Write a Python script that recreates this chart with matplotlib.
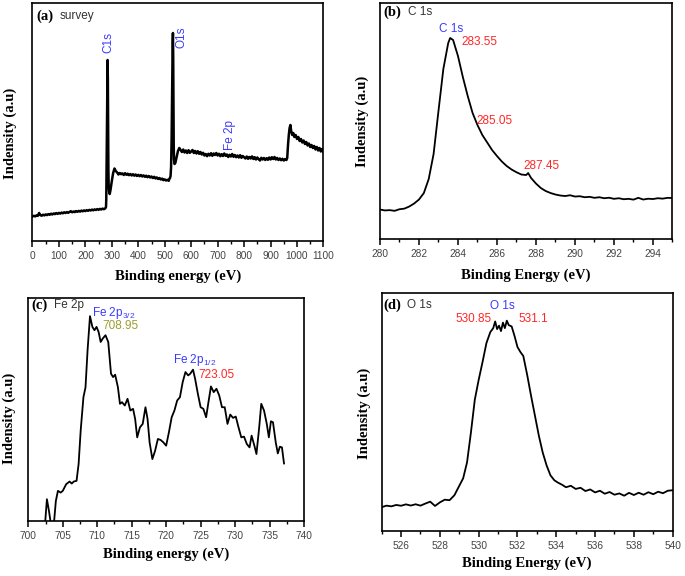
import matplotlib
matplotlib.use("Agg")
import matplotlib.pyplot as plt
from matplotlib.ticker import MultipleLocator, NullLocator

# ---- data (intensity in arbitrary units) ----
survey_ev = [
    0, 5, 10, 15, 20, 25, 30, 35, 40, 45, 50, 55, 60, 65, 70, 75, 80, 85, 90, 95,
    100, 105, 110, 115, 120, 125, 130, 135, 140, 145, 150, 155, 160, 165, 170, 175, 180, 185, 190, 195,
    200, 205, 210, 215, 220, 225, 230, 235, 240, 245, 250, 255, 260, 265, 270, 275, 278,
    279, 281, 283, 284, 285, 286, 287, 288, 290, 292, 295, 300, 305, 310, 315,
    320, 325, 330, 335, 340, 345, 350, 355, 360, 365, 370, 375, 380, 385, 390, 395,
    400, 405, 410, 415, 420, 425, 430, 435, 440, 445, 450, 455, 460, 465, 470, 475,
    480, 485, 490, 495, 500, 505, 510, 515, 518,
    520, 522, 524, 526, 528, 530, 531, 532, 533, 534, 535, 537, 540, 545, 550, 555,
    560, 565, 570, 575, 580, 585, 590, 595, 600, 605, 610, 615, 620, 625, 630, 635,
    640, 645, 650, 655, 660, 665, 670, 675, 680, 685, 690, 695, 700, 705, 710, 715,
    720, 725, 730, 735, 740, 745, 750, 755, 760, 765, 770, 775, 780, 785, 790, 795,
    800, 805, 810, 815, 820, 825, 830, 835, 840, 845, 850, 855, 860, 865, 870, 875,
    880, 885, 890, 895, 900, 905, 910, 915, 920, 925, 930, 935, 940, 945, 950, 955,
    960, 963, 966, 969, 972, 975, 978, 982, 986, 990, 995,
    1000, 1005, 1010, 1015, 1020, 1025, 1030, 1035, 1040, 1045, 1050, 1055, 1060,
    1065, 1070, 1075, 1080, 1085, 1090, 1095, 1100,
]
survey_int = [
    24.5, 25.2, 24.6, 25.6, 25.1, 28.0, 25.8, 25.3, 26.3, 25.6, 26.6, 25.9, 26.9, 26.2, 27.3, 26.5, 27.5, 26.9, 27.9, 27.1,
    28.1, 27.4, 28.4, 27.7, 28.7, 28.0, 28.9, 28.2, 29.1, 29.8, 28.7, 29.5, 28.9, 29.9, 29.2, 30.1, 29.4, 30.4, 29.7, 30.6,
    29.9, 30.9, 30.2, 31.1, 30.5, 31.4, 30.7, 31.6, 31.0, 31.9, 31.2, 32.1, 31.5, 32.4, 31.8, 32.6, 34.0,
    42, 100, 168, 181, 162, 112, 72, 56, 49, 47, 51, 60, 68, 72.5, 70,
    68.5, 66.5, 68.0, 66.8, 67.6, 66.0, 67.8, 66.2, 67.3, 65.8, 67.0, 65.5, 66.8, 65.3, 66.5, 65.0,
    66.2, 64.8, 66.0, 64.5, 65.6, 64.2, 65.3, 63.8, 65.0, 63.5, 64.5, 63.0, 64.2, 62.5, 63.6, 62.0,
    63.0, 61.5, 62.4, 60.8, 61.6, 60.5, 61.2, 60.2, 62.5,
    63, 65, 74, 102, 150, 198, 208, 185, 130, 95, 82, 77, 78, 84, 90, 93,
    91.0, 89.0, 91.5, 88.5, 90.5, 88.0, 90.8, 88.2, 89.5, 91.0, 88.0, 90.0, 87.5, 89.8, 87.2, 89.0,
    86.5, 88.2, 85.5, 87.0, 84.8, 87.2, 85.5, 87.8, 85.2, 87.5, 86.0, 88.0, 85.5, 87.2, 84.8, 86.8,
    85.0, 87.5, 85.2, 86.5, 84.0, 86.2, 84.5, 87.0, 84.2, 86.0, 83.8, 85.5, 83.5, 85.8, 83.2, 85.0,
    83.8, 82.5, 84.5, 82.2, 84.0, 82.5, 84.6, 82.0, 83.8, 81.5, 83.5, 81.8, 80.5, 83.2, 81.5, 83.0,
    81.0, 82.8, 81.2, 83.5, 81.5, 83.8, 82.0, 84.0, 81.5, 83.0, 81.0, 82.5, 80.8, 82.2, 80.5, 82.0,
    81.0, 83.0, 96, 106, 113, 116, 110, 106, 108, 104, 106,
    102, 104, 100, 102, 98.5, 100.5, 97, 99, 95.5, 97.5, 94, 96, 93,
    95, 91.5, 94, 90.5, 93, 89.5, 92, 89,
]

c1s_ev = [
    280.0, 280.25, 280.5, 280.75, 281.0, 281.25, 281.5, 281.75, 282.0, 282.25, 282.5, 282.75,
    283.0, 283.25, 283.5, 283.6, 283.75, 284.0, 284.25, 284.5, 284.75, 285.0, 285.25, 285.5,
    285.75, 286.0, 286.25, 286.5, 286.75, 287.0, 287.25, 287.5, 287.6, 287.75, 288.0, 288.25,
    288.5, 288.75, 289.0, 289.25, 289.5, 289.75, 290.0, 290.25, 290.5, 290.75, 291.0, 291.25,
    291.5, 291.75, 292.0, 292.25, 292.5, 292.75, 293.0, 293.25, 293.5, 293.75, 294.0, 294.25,
    294.5, 294.75, 295.0,
]
c1s_int = [
    29.5, 28.6, 28.9, 28.2, 29.8, 30.4, 32.5, 35.5, 39.5, 46, 60, 85,
    128, 170, 196, 201, 199, 183, 162, 143, 126, 114, 104, 96.5,
    89, 83, 77.5, 73, 69.5, 66.8, 64.5, 64, 66, 61, 55.5, 51,
    48, 46, 44.5, 43.5, 43, 43.8, 42.5, 42.8, 41.8, 42.2, 41.2, 41.8,
    40.8, 41.3, 40.2, 40.8, 39.8, 40.2, 39.4, 41.2, 39.5, 40.3, 40, 40.8,
    40.4, 41.2, 41,
]

fe2p_ev = [
    702.4, 702.7, 703.0, 703.3, 703.7, 704.0, 704.3, 704.7, 705.0, 705.5, 706.0, 706.3, 706.6,
    707.0, 707.3, 707.6, 708.0, 708.3, 708.6, 708.95, 709.3, 709.6, 709.9, 710.2, 710.5, 710.8,
    711.2, 711.6, 712.0, 712.3, 712.6, 713.0, 713.3, 713.6, 714.0, 714.4, 714.8, 715.2, 715.5,
    715.8, 716.2, 716.6, 717.0, 717.3, 717.6, 718.0, 718.4, 718.8, 719.2, 719.6, 720.0, 720.4,
    720.8, 721.2, 721.6, 722.0, 722.4, 722.8, 723.2, 723.5, 723.9, 724.2, 724.6, 725.0, 725.4,
    725.8, 726.1, 726.5, 726.9, 727.3, 727.7, 728.1, 728.5, 728.9, 729.3, 729.7, 730.1, 730.5,
    730.9, 731.3, 731.7, 732.1, 732.4, 732.8, 733.1, 733.5, 733.8, 734.2, 734.6, 734.9, 735.2,
    735.5, 735.9, 736.2, 736.5, 736.8, 737.1,
]
fe2p_int = [
    -6, 21.7, 10, -4, -4, 20, 30, 28.3, 30, 36.7, 39.3, 37.3, 39.3,
    40, 56.7, 90, 123.3, 133, 170, 204, 193.3, 190, 193.3, 188.3, 178.3, 181.7,
    185, 178.3, 146.7, 143.3, 145.7, 133.3, 116.7, 118.3, 115, 121.7, 110, 111.7, 101.7,
    83.3, 93.3, 96.7, 113.3, 101.7, 78.3, 61.7, 70, 81.7, 80.7, 78.3, 75, 88.3,
    103.3, 110, 120, 123.3, 138.3, 148.3, 145, 146.7, 150.7, 141.7, 126.7, 113.3, 111.7,
    103.3, 116.7, 134, 128.3, 131.7, 125, 113.3, 113.3, 96.7, 106, 102.7, 104, 93.3,
    83.3, 84, 76.7, 73.3, 85, 75, 66.7, 93.3, 116.7, 110, 96.7, 83.3, 99.3,
    98.3, 78.3, 67.3, 74, 73.3, 57.3,
]

o1s_ev = [
    525.0, 525.25, 525.5, 525.75, 526.0, 526.25, 526.5, 526.75, 527.0, 527.25, 527.5, 527.75,
    528.0, 528.25, 528.5, 528.75, 529.0, 529.2, 529.4, 529.6, 529.8, 530.0, 530.2, 530.4,
    530.6, 530.75, 530.85, 530.95, 531.05, 531.15, 531.25, 531.35, 531.45, 531.55, 531.7, 531.85,
    532.0, 532.15, 532.3, 532.5, 532.7, 532.9, 533.1, 533.3, 533.5, 533.7, 533.9, 534.1,
    534.3, 534.5, 534.75, 535.0, 535.25, 535.5, 535.75, 536.0, 536.25, 536.5, 536.75, 537.0,
    537.25, 537.5, 537.75, 538.0, 538.25, 538.5, 538.75, 539.0, 539.25, 539.5, 539.75, 540.0,
]
o1s_int = [
    24, 25.5, 24.8, 26.2, 25.4, 26.8, 25.6, 26.9, 25.5, 27.6, 29.5, 25.2,
    28.8, 31.5, 31, 36, 45.5, 53, 69, 99, 132, 152, 170, 189,
    200, 204, 210.7, 203, 206.5, 201, 209.5, 204, 211.5, 207, 205.7, 196,
    185, 180, 176, 157, 136, 116, 96, 79, 66, 56, 51, 48.5,
    46.5, 44, 45.5, 42.3, 43.5, 40.2, 41.8, 38.8, 40.5, 37.5, 39.2, 36.5,
    37.8, 35.5, 38.4, 36.2, 38.5, 36.5, 39.0, 37.0, 39.5, 38.0, 40.5, 41.0,
]

BLUE = "#3a3aff"
RED = "#ff2626"
OLIVE = "#9c9c30"
TICKGREY = "#444444"
SANS = "Liberation Sans"
SERIF = "Liberation Serif"

plt.rcParams["font.family"] = SANS
plt.rcParams["mathtext.fontset"] = "custom"
plt.rcParams["mathtext.rm"] = SANS


def style_axes(ax, xlim, ylim, major, minor, xlabel, xlab_y, ylab_x, ylab_y):
    ax.set_xlim(*xlim)
    ax.set_ylim(*ylim)
    ax.xaxis.set_major_locator(MultipleLocator(major))
    ax.xaxis.set_minor_locator(MultipleLocator(minor))
    ax.yaxis.set_major_locator(NullLocator())
    ax.yaxis.set_minor_locator(NullLocator())
    ax.tick_params(axis="x", which="major", direction="out", length=4, width=1.1,
                   labelsize=7.3, labelcolor=TICKGREY, pad=3)
    ax.tick_params(axis="x", which="minor", direction="out", length=2.5, width=1.0)
    for sp in ax.spines.values():
        sp.set_linewidth(1.2)
    # label coords: x label anchored at its top, y label at its right edge
    ax.set_xlabel(xlabel, family=SERIF, weight="bold", fontsize=10.5)
    ax.xaxis.set_label_coords(0.5, xlab_y)
    ax.set_ylabel("Indensity (a.u)", family=SERIF, weight="bold", fontsize=10.5)
    ax.yaxis.set_label_coords(ylab_x, ylab_y)


def panel_tag(ax, tag, name, x0, x1, y):
    ax.text(x0, y, tag, transform=ax.transAxes, family=SERIF, weight="bold",
            fontsize=10.5, va="center", ha="left")
    ax.text(x1, y, name, transform=ax.transAxes, fontsize=8.5, color="#333333",
            va="center", ha="left")


fig = plt.figure(figsize=(6.85, 5.76), dpi=100)
ax_a = fig.add_axes([0.0474, 0.5816, 0.4248, 0.4132])
ax_b = fig.add_axes([0.5547, 0.5850, 0.4270, 0.4098])
ax_c = fig.add_axes([0.0413, 0.0955, 0.4025, 0.3870])
ax_d = fig.add_axes([0.5572, 0.0781, 0.4248, 0.4132])

# (a) survey
ax_a.plot(survey_ev, survey_int, color="black", lw=1.8)
style_axes(ax_a, (0, 1100), (0, 238), 100, 50, "Binding energy (eV)", -0.119, -0.054, 0.451)
panel_tag(ax_a, "(a)", "survey", 0.012, 0.092, 0.945)
ax_a.text(286.5, 198, "C1s", rotation=90, color=BLUE, fontsize=8.5, ha="center", va="center")
ax_a.text(564, 204, "O1s", rotation=90, color=BLUE, fontsize=8.5, ha="center", va="center")
ax_a.text(746, 106, "Fe 2p", rotation=90, color=BLUE, fontsize=8.5, ha="center", va="center")

# (b) C 1s
ax_b.plot(c1s_ev, c1s_int, color="black", lw=1.3)
style_axes(ax_b, (280, 295), (0, 236), 2, 1, "Binding Energy (eV)", -0.124, -0.0366, 0.497)
panel_tag(ax_b, "(b)", "C 1s", 0.011, 0.097, 0.962)
ax_b.text(283.63, 210, "C 1s", color=BLUE, fontsize=8.5, ha="center", va="center")
ax_b.text(284.2, 197, "283.55", color=RED, fontsize=8.5, ha="left", va="center")
ax_b.text(284.97, 118, "285.05", color=RED, fontsize=8.5, ha="left", va="center")
ax_b.text(287.34, 73, "287.45", color=RED, fontsize=8.5, ha="left", va="center")

# (c) Fe 2p
ax_c.plot(fe2p_ev, fe2p_int, color="black", lw=1.3)
style_axes(ax_c, (700, 740), (0, 222), 5, 2.5, "Binding energy (eV)", -0.120, -0.0446, 0.46)
panel_tag(ax_c, "(c)", "Fe 2p", 0.010, 0.094, 0.968)
ax_c.text(709.3, 207, r"Fe 2p$_{\mathregular{3/2}}$", color=BLUE, fontsize=8.5, ha="left", va="center")
ax_c.text(710.8, 194, "708.95", color=OLIVE, fontsize=8.5, ha="left", va="center")
ax_c.text(720.96, 160, r"Fe 2p$_{\mathregular{1/2}}$", color=BLUE, fontsize=8.5, ha="left", va="center")
ax_c.text(724.67, 145.7, "723.05", color=RED, fontsize=8.5, ha="left", va="center")

# (d) O 1s
ax_d.plot(o1s_ev, o1s_int, color="black", lw=1.3)
style_axes(ax_d, (525, 540), (0, 239.3), 2, 1, "Binding Energy (eV)", -0.109, -0.0378, 0.494)
ax_d.set_xticks([526, 528, 530, 532, 534, 536, 538, 540])
ax_d.set_xticks([525, 527, 529, 531, 533, 535, 537, 539], minor=True)
panel_tag(ax_d, "(d)", "O 1s", 0.0055, 0.086, 0.95)
ax_d.text(531.2, 226.3, "O 1s", color=BLUE, fontsize=8.5, ha="center", va="center")
ax_d.text(530.67, 213, "530.85", color=RED, fontsize=8.5, ha="right", va="center")
ax_d.text(532.04, 213, "531.1", color=RED, fontsize=8.5, ha="left", va="center")

fig.savefig("out.png", dpi=100)
